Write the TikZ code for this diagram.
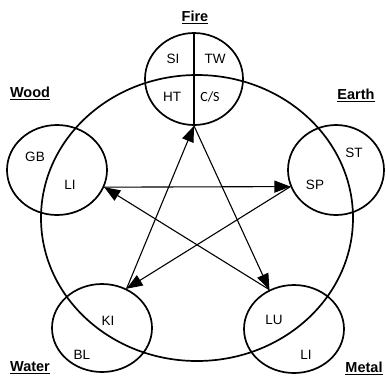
\documentclass[tikz,border=0pt]{standalone}
\usepackage{fontspec}
\setmainfont{Liberation Sans}
\newfontfamily\calibrifont{Carlito}
\usetikzlibrary{shapes.geometric,arrows.meta}

\begin{document}
\begin{tikzpicture}[x=1pt, y=-1pt, every node/.style={font=\fontsize{13.5}{16}\selectfont}]
				\useasboundingbox (0,0) rectangle (386,376);
				\tikzset{
				element/.style={draw, ellipse, line width=1.7pt, inner sep=0pt},
				heading/.style={font=\fontsize{14.5}{17}\selectfont\bfseries},
				ctrl/.style={line width=1.1pt, -{Triangle[length=16pt,width=12pt]}}
				}
				
				% Headings
				\node[heading] (hfire) at (195,17) {\underline{Fire}};
				\node[heading] (hwood) at (30,93) {\underline{Wood}};
				\node[heading] (hearth) at (356,95) {\underline{Earth}};
				\node[heading] (hwater) at (30,368) {\underline{Water}};
				\node[heading] (hmetal) at (364,368) {\underline{Metal}};
				
				% Big cycle
				\node[
				element,
				minimum width=312pt,
				minimum height=286pt
				] (cycle) at (197,218) {};
				
				% Element circles
				\node[
				element,
				minimum width=98pt,
				minimum height=92pt
				] (fire) at (194,79) {};
				
				\node[
				element,
				minimum width=100pt,
				minimum height=90pt
				] (wood) at (57,170) {};
				
				\node[
				element,
				minimum width=96pt,
				minimum height=90pt
				] (earth) at (336,170) {};
				
				\node[
				element,
				minimum width=100pt,
				minimum height=88pt
				] (water) at (102,328) {};
				
				\node[
				element,
				minimum width=100pt,
				minimum height=88pt
				] (metal) at (294,329) {};
				
				\draw[line width=1.7pt] (fire.north) -- (fire.south);
				
				% Organ labels
				\node (si) at (173,59) {SI};
				\node (tw) at (215,59) {TW};
				\node (ht) at (172,97) {HT};
				\node[font=\fontsize{14}{16}\calibrifont] (cs) at (210,97) {C/S};
				\node (gb) at (35,157) {GB};
				\node (liw) at (70,185) {LI};
				\node (st) at (354,153) {ST};
				\node (sp) at (315,185) {SP};
				\node (ki) at (108,321) {KI};
				\node (bl) at (82,355) {BL};
				\node (lu) at (274,320) {LU};
				\node (lim) at (306,355) {LI};
				
				% Control lines
				\draw[ctrl] (wood.-20) -- (earth.-160);
				\draw[ctrl] (earth.-160) -- (water.58);
				\draw[ctrl] (water.58) -- (fire.south);
				\draw[ctrl] (fire.south) -- (metal.122);
				\draw[ctrl] (metal.122) -- (wood.-20);
			\end{tikzpicture}
\end{document}
